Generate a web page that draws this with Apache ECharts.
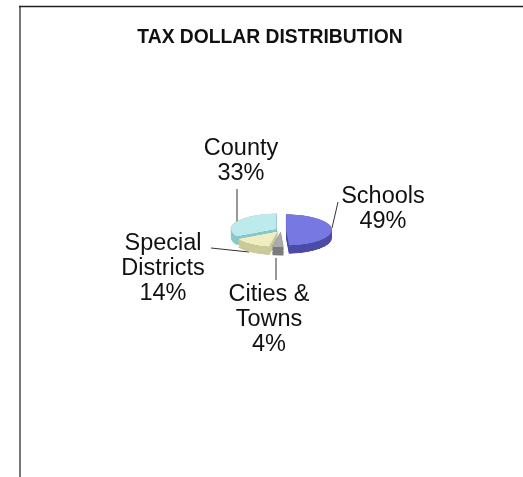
<!DOCTYPE html>
<html>
<head>
<meta charset="utf-8">
<script src="https://cdn.jsdelivr.net/npm/echarts@6/dist/echarts.min.js"></script>
<style>
  html, body { margin: 0; padding: 0; background: #fff; }
  #wrap { position: relative; width: 523px; height: 477px; overflow: hidden; }
  #main { position: absolute; left: 0; top: 0; width: 523px; height: 477px; }
  #pie { position: absolute; left: 181px; top: 130px; width: 200px; height: 200px;
         transform-origin: 100px 100px; transform: scaleY(0.34); }
</style>
</head>
<body>
<div id="wrap">
  <div id="main"></div>
  <div id="pie"></div>
</div>
<script>
// ---- data ----
var titleText = 'TAX DOLLAR DISTRIBUTION';
var categories = ['Schools', 'Cities & Towns', 'Special Districts', 'County'];
var labelNames = ['Schools', 'Cities &\nTowns', 'Special\nDistricts', 'County'];
var values = [49, 4, 14, 33];
var topColors = ['#7878e2', '#ababab', '#efeec3', '#bdeaec'];
var sideColors = ['#4b4ba8', '#7c7c7c', '#cbca98', '#85c9cb'];

// ---- pie (flattened 3D look) ----
var pieChart = echarts.init(document.getElementById('pie'), null, { renderer: 'canvas' });
var depthOffsets = [24, 20, 16, 12, 8, 4];
var pieSeries = [];
function sliceData(colors) {
  return categories.map(function (c, i) {
    return { name: c, value: values[i], selected: true, itemStyle: { color: colors[i] } };
  });
}
depthOffsets.forEach(function (off) {
  pieSeries.push({
    type: 'pie', silent: true, animation: false,
    center: [100, 100 + off], radius: 46,
    startAngle: 90, clockwise: true,
    selectedMode: 'multiple', selectedOffset: 5,
    label: { show: false }, labelLine: { show: false },
    data: sliceData(sideColors)
  });
});
pieSeries.push({
  type: 'pie', silent: true, animation: false,
  center: [100, 100], radius: 46,
  startAngle: 90, clockwise: true,
  selectedMode: 'multiple', selectedOffset: 5,
  label: { show: false }, labelLine: { show: false },
  itemStyle: { borderColor: 'rgba(60,60,60,0.25)', borderWidth: 0.6 },
  data: sliceData(topColors)
});
pieChart.setOption({ animation: false, series: pieSeries });

// ---- frame, title, labels ----
var mainChart = echarts.init(document.getElementById('main'), null, { renderer: 'canvas' });
var labelFont = 'Liberation Sans, Arial, sans-serif';
function labelText(i) { return labelNames[i] + '\n' + values[i] + '%'; }
var labelPos = [
  { x: 383, y: 209 },   // Schools
  { x: 269, y: 320 },   // Cities & Towns
  { x: 163, y: 269 },   // Special Districts
  { x: 241, y: 161 }    // County
];
var leaderLines = [
  [338, 202, 332, 228],
  [276, 258, 276, 280],
  [211, 248, 249, 252],
  [237, 189, 237, 222]
];
var graphics = [
  { type: 'line', shape: { x1: 20, y1: 6, x2: 20, y2: 477 }, style: { stroke: '#777', lineWidth: 2 } },
  { type: 'line', shape: { x1: 19, y1: 6.5, x2: 523, y2: 6.5 }, style: { stroke: '#222', lineWidth: 1.5 } },
  { type: 'text', x: 270, y: 37.5,
    style: { text: titleText, fill: '#111', font: 'bold 19.3px ' + labelFont,
      align: 'center', verticalAlign: 'middle' } }
];
leaderLines.forEach(function (l) {
  graphics.push({ type: 'line', shape: { x1: l[0], y1: l[1], x2: l[2], y2: l[3] },
    style: { stroke: '#333', lineWidth: 1 } });
});
labelPos.forEach(function (p, i) {
  graphics.push({ type: 'text', x: p.x, y: p.y,
    style: { text: labelText(i), fill: '#111', font: '23.5px ' + labelFont,
      align: 'center', verticalAlign: 'middle', lineHeight: 25 } });
});
mainChart.setOption({
  animation: false,
  backgroundColor: '#ffffff',
  graphic: graphics
});
</script>
</body>
</html>
